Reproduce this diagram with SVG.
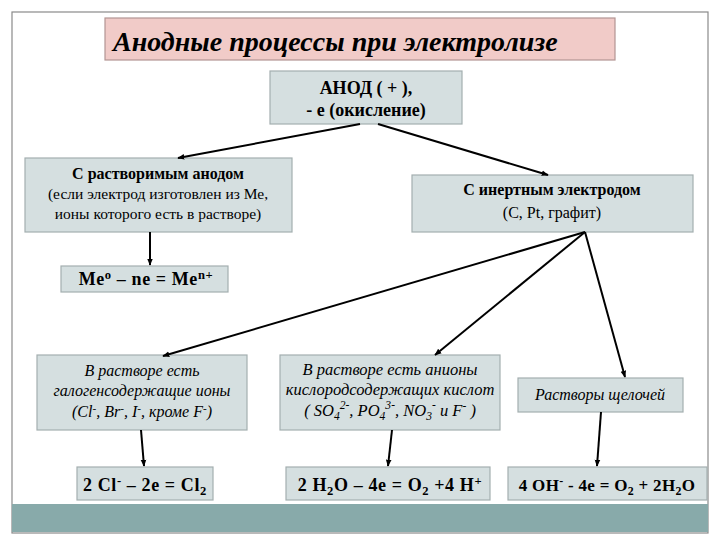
<svg xmlns="http://www.w3.org/2000/svg" width="720" height="540" viewBox="0 0 720 540" font-family="'Liberation Serif', 'DejaVu Serif', 'Times New Roman', serif">
<defs>
<marker id="ah" viewBox="0 0 10 10" refX="9" refY="5" markerWidth="7" markerHeight="7" orient="auto-start-reverse" markerUnits="userSpaceOnUse">
<path d="M0,1 L10,5 L0,9 z" fill="#000"/>
</marker>
<style>
.box{fill:#d5dfe0;stroke:#a4afb0;stroke-width:1.2}
.t{fill:#000;text-anchor:middle}
.b{font-weight:bold}
.i{font-style:italic}
.c{stroke:#000;stroke-width:2;fill:none;marker-end:url(#ah)}
.s{font-size:70%}
.eq{font-weight:bold;font-size:18px;letter-spacing:0.6px}
</style>
</defs>
<rect x="0" y="0" width="720" height="540" fill="#fff"/>
<rect x="12" y="12" width="696" height="521" fill="none" stroke="#8a8a8a" stroke-width="1.2"/>
<rect x="12" y="504" width="696" height="28" fill="#88aaaa"/>

<g id="title">
<rect x="105" y="18" width="510" height="42" fill="#f1cbc8" stroke="#b39593" stroke-width="1.2"/>
<text x="113" y="51" class="t b i" style="text-anchor:start" font-size="28">Анодные процессы при электролизе</text>
</g>

<g id="anode">
<rect x="270" y="71" width="192" height="53" class="box"/>
<text x="366" y="94" class="t b" font-size="18">АНОД ( + ),</text>
<text x="366" y="116" class="t b" font-size="18">- e (окисление)</text>
</g>

<g id="soluble">
<rect x="25" y="158" width="267" height="74" class="box"/>
<text x="158" y="179" class="t b" font-size="16">С растворимым анодом</text>
<text x="158" y="199" class="t" font-size="15.5">(если электрод изготовлен из Ме,</text>
<text x="158" y="219" class="t" font-size="15.5">ионы которого есть в растворе)</text>
</g>

<g id="inert">
<rect x="412" y="175" width="281" height="57" class="box"/>
<text x="552" y="195" class="t b" font-size="16">С инертным электродом</text>
<text x="552" y="218" class="t" font-size="16">(C, Pt, графит)</text>
</g>

<g id="me">
<rect x="61" y="266" width="167" height="26" class="box"/>
<text x="146" y="285" class="t eq">Me<tspan class="s" dy="-6">o</tspan><tspan dy="6"> – ne = Me</tspan><tspan class="s" dy="-6">n+</tspan></text>
</g>

<g id="halogen">
<rect x="37" y="355" width="210" height="75" class="box"/>
<text x="142" y="376" class="t i" font-size="16">В растворе есть</text>
<text x="142" y="396" class="t i" font-size="16">галогенсодержащие ионы</text>
<text x="142" y="417" class="t i" font-size="16">(Cl<tspan class="s" dy="-5">-</tspan><tspan dy="5">, Br</tspan><tspan class="s" dy="-5">-</tspan><tspan dy="5">, I</tspan><tspan class="s" dy="-5">-</tspan><tspan dy="5">, кроме F</tspan><tspan class="s" dy="-5">-</tspan><tspan dy="5">)</tspan></text>
</g>

<g id="oxyacid">
<rect x="280" y="355" width="220" height="75" class="box"/>
<text x="390" y="375" class="t i" font-size="16.5">В растворе есть анионы</text>
<text x="390" y="395" class="t i" font-size="16.5">кислородсодержащих кислот</text>
<text x="390" y="416" class="t i" font-size="16.5">( SO<tspan class="s" dy="4">4</tspan><tspan class="s" dy="-11">2-</tspan><tspan dy="7">, PO</tspan><tspan class="s" dy="4">4</tspan><tspan class="s" dy="-11">3-</tspan><tspan dy="7">, NO</tspan><tspan class="s" dy="4">3</tspan><tspan class="s" dy="-11">-</tspan><tspan dy="7"> и F</tspan><tspan class="s" dy="-6">-</tspan><tspan dy="6"> )</tspan></text>
</g>

<g id="alkali">
<rect x="518" y="378" width="165" height="34" class="box"/>
<text x="600" y="400" class="t i" font-size="16">Растворы щелочей</text>
</g>

<g id="eq1">
<rect x="77" y="467" width="136" height="33" class="box"/>
<text x="145" y="491" class="t eq">2 Cl<tspan class="s" dy="-6">-</tspan><tspan dy="6"> – 2e = Cl</tspan><tspan class="s" dy="4">2</tspan></text>
</g>

<g id="eq2">
<rect x="286" y="467" width="204" height="33" class="box"/>
<text x="390" y="491" class="t eq">2 H<tspan class="s" dy="4">2</tspan><tspan dy="-4">O – 4e = O</tspan><tspan class="s" dy="4">2</tspan><tspan dy="-4"> +4 H</tspan><tspan class="s" dy="-6">+</tspan></text>
</g>

<g id="eq3">
<rect x="508" y="467" width="199" height="33" class="box"/>
<text x="607" y="491" class="t eq" style="font-size:17px;letter-spacing:0.3px">4 OH<tspan class="s" dy="-6">-</tspan><tspan dy="6"> - 4e = O</tspan><tspan class="s" dy="4">2</tspan><tspan dy="-4"> + 2H</tspan><tspan class="s" dy="4">2</tspan><tspan dy="-4">O</tspan></text>
</g>

<g id="connectors">
<line x1="360" y1="124" x2="178" y2="158" class="c"/>
<line x1="378" y1="124" x2="548" y2="175" class="c"/>
<line x1="150" y1="232" x2="150" y2="265" class="c"/>
<line x1="585" y1="232" x2="163" y2="356" class="c"/>
<line x1="585" y1="232" x2="435" y2="355" class="c"/>
<line x1="585" y1="232" x2="625" y2="377" class="c"/>
<line x1="141" y1="430" x2="144" y2="466" class="c"/>
<line x1="392" y1="430" x2="388" y2="466" class="c"/>
<line x1="601" y1="412" x2="597" y2="466" class="c"/>
</g>
</svg>
